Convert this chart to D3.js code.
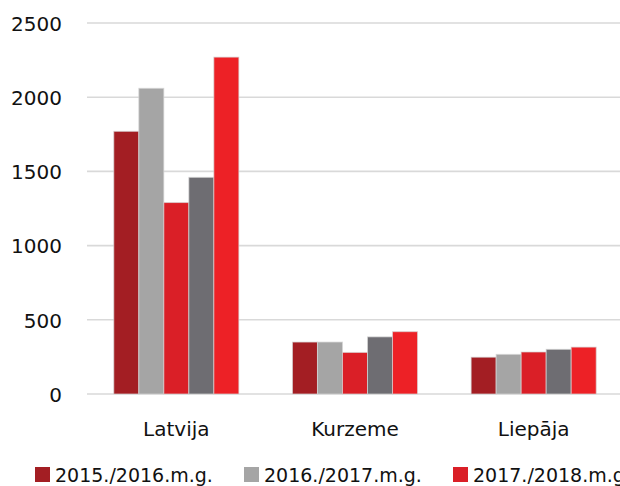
<!DOCTYPE html>
<html>
<head>
<meta charset="utf-8">
<script src="https://cdn.jsdelivr.net/npm/d3@7"></script>
<style>
  html, body { margin: 0; padding: 0; background: #fff; }
  svg { display: block; }
  text { font-family: "DejaVu Sans", sans-serif; fill: #111; }
</style>
</head>
<body>
<svg id="chart" width="620" height="486"></svg>
<script>
// Regions shown on the x axis
const categories = ["Latvija", "Kurzeme", "Liepāja"];
// School years (one bar per year in each region)
const seriesNames = ["2015./2016.m.g.", "2016./2017.m.g.", "2017./2018.m.g.", "2018./2019.m.g.", "2019./2020.m.g."];
// Values per year, in region order
const s2015 = [1770, 350, 248];
const s2016 = [2060, 350, 267];
const s2017 = [1290, 280, 283];
const s2018 = [1460, 385, 301];
const s2019 = [2270, 420, 316];
const yTicks = [0, 500, 1000, 1500, 2000, 2500];
const colors = ["#a31e23", "#a5a5a5", "#da1f27", "#6e6d72", "#ed2126"];

const seriesValues = [s2015, s2016, s2017, s2018, s2019];
const rows = categories.map((c, i) => ({
  category: c,
  values: seriesNames.map((s, j) => ({ series: s, value: seriesValues[j][i], idx: j }))
}));

const svg = d3.select("#chart");
const plotLeft = 87, plotRight = 623, plotTop = 23, plotBottom = 394;

const x0 = d3.scaleBand().domain(categories).range([plotLeft, plotRight])
  .paddingInner(0.3).paddingOuter(0.15);
const x1 = d3.scaleBand().domain(seriesNames).range([0, x0.bandwidth()]);
const y = d3.scaleLinear().domain([0, 2500]).range([plotBottom, plotTop]);

// Horizontal gridlines
svg.append("g").selectAll("line").data(yTicks).join("line")
  .attr("x1", plotLeft).attr("x2", 620)
  .attr("y1", d => y(d)).attr("y2", d => y(d))
  .attr("stroke", "#d9d9d9").attr("stroke-width", 1.6);

// Y axis labels
const yAxis = d3.axisLeft(y).tickValues(yTicks).tickFormat(d3.format("d"))
  .tickSize(0).tickPadding(0);
const gy = svg.append("g").attr("transform", `translate(62,0)`).call(yAxis);
gy.select(".domain").remove();
gy.selectAll("text").attr("font-size", 20).attr("fill", "#111")
  .attr("font-family", "DejaVu Sans, sans-serif").attr("dy", "0.36em");

// Bars
const groups = svg.append("g").selectAll("g").data(rows).join("g")
  .attr("transform", d => `translate(${x0(d.category)},0)`);
groups.selectAll("rect").data(d => d.values).join("rect")
  .attr("x", d => x1(d.series))
  .attr("y", d => y(d.value))
  .attr("width", x1.bandwidth())
  .attr("height", d => y(0) - y(d.value))
  .attr("fill", d => colors[d.idx])
  .attr("stroke", "#d6d6d6").attr("stroke-opacity", 0.7).attr("stroke-width", 1);

// Category labels
const xAxis = d3.axisBottom(x0).tickSize(0).tickPadding(0);
const gx = svg.append("g").attr("transform", `translate(0,${plotBottom})`).call(xAxis);
gx.select(".domain").remove();
gx.selectAll("text").attr("font-size", 20).attr("fill", "#111")
  .attr("font-family", "DejaVu Sans, sans-serif")
  .attr("y", 42).attr("dy", 0);

// Legend (the row runs past the right edge of the frame)
const legend = svg.append("g").selectAll("g").data(seriesNames).join("g")
  .attr("transform", (d, i) => `translate(${35 + i * 209},467)`);
legend.append("rect").attr("width", 15).attr("height", 15)
  .attr("fill", (d, i) => colors[i]);
legend.append("text").attr("x", 20).attr("y", 15)
  .attr("font-size", 19).text(d => d);
</script>
</body>
</html>
